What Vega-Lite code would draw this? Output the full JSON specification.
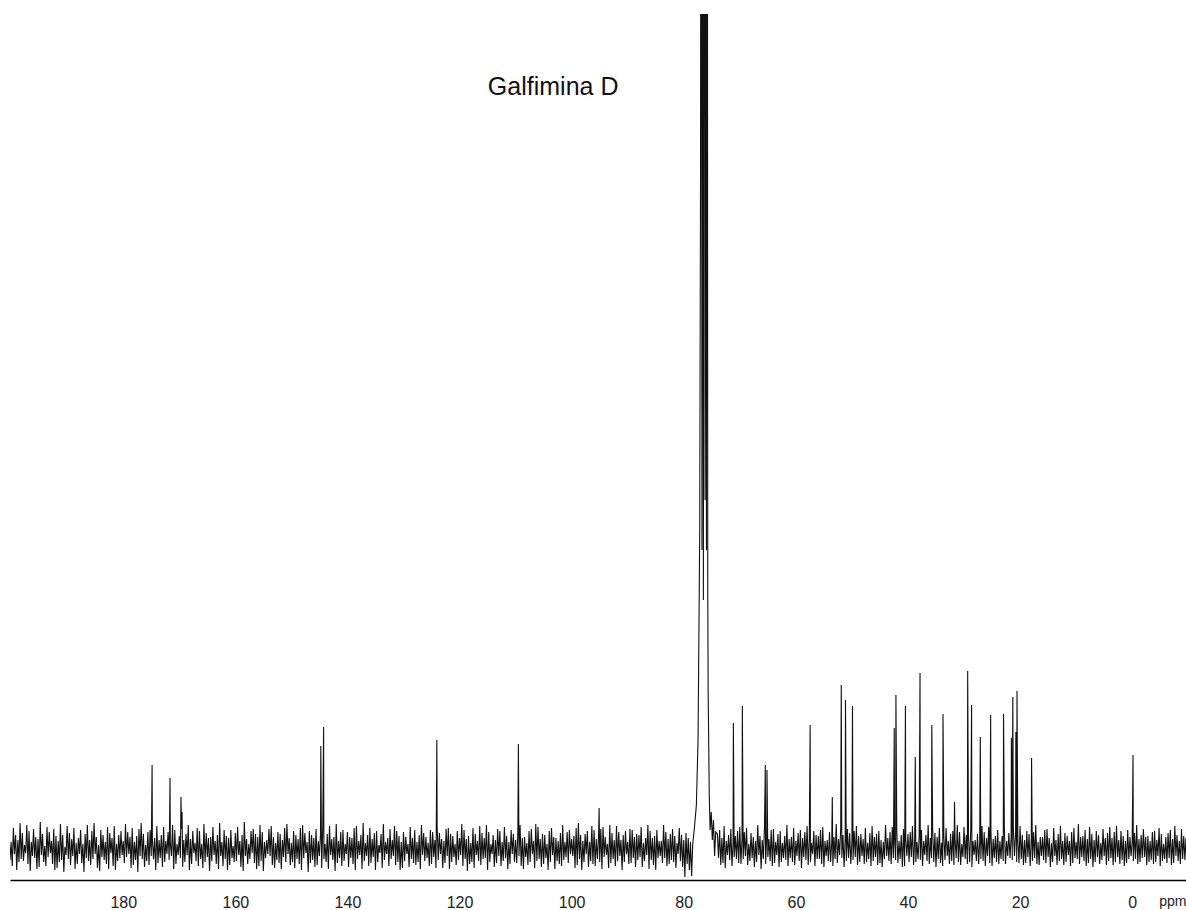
{
"$schema": "https://vega.github.io/schema/vega-lite/v6.json",
"width": 1176, "height": 866,
"padding": {"left": 10, "top": 14, "right": 0, "bottom": 30},
"autosize": {"type": "none"},
"background": "white",
"config": {"view": {"stroke": null}, "font": "Liberation Sans"},
"layer": [
{"data": {"values": [
{"p":202,"v":14},{"p":201.8,"v":-7},{"p":201.6,"v":18},{"p":201.4,"v":-11},{"p":201.2,"v":6},{"p":201,"v":-13},{"p":200.8,"v":24},{"p":200.6,"v":-4},{"p":200.4,"v":19},{"p":200.2,"v":-10},
{"p":200,"v":8},{"p":199.8,"v":-16},{"p":199.6,"v":22},{"p":199.4,"v":-4},{"p":199.2,"v":15},{"p":199,"v":-20},{"p":198.8,"v":10},{"p":198.6,"v":-12},{"p":198.4,"v":27},{"p":198.2,"v":-9},
{"p":198,"v":17},{"p":197.8,"v":-11},{"p":197.6,"v":5},{"p":197.4,"v":-3},{"p":197.2,"v":25},{"p":197,"v":-14},{"p":196.8,"v":19},{"p":196.6,"v":-21},{"p":196.4,"v":8},{"p":196.2,"v":-6},
{"p":196,"v":21},{"p":195.8,"v":-8},{"p":195.6,"v":13},{"p":195.4,"v":-19},{"p":195.2,"v":11},{"p":195,"v":-17},{"p":194.8,"v":28},{"p":194.6,"v":-5},{"p":194.4,"v":16},{"p":194.2,"v":-12},
{"p":194,"v":4},{"p":193.8,"v":-16},{"p":193.6,"v":23},{"p":193.4,"v":-7},{"p":193.2,"v":18},{"p":193,"v":-3},{"p":192.8,"v":9},{"p":192.6,"v":-14},{"p":192.4,"v":21},{"p":192.2,"v":-20},
{"p":192,"v":14},{"p":191.8,"v":-18},{"p":191.6,"v":9},{"p":191.4,"v":-12},{"p":191.2,"v":26},{"p":191,"v":-10},{"p":190.8,"v":15},{"p":190.6,"v":-22},{"p":190.4,"v":3},{"p":190.2,"v":-5},
{"p":190,"v":24},{"p":189.8,"v":-9},{"p":189.6,"v":17},{"p":189.4,"v":-15},{"p":189.2,"v":11},{"p":189,"v":-6},{"p":188.8,"v":22},{"p":188.6,"v":-19},{"p":188.4,"v":7},{"p":188.2,"v":-14},
{"p":188,"v":12},{"p":187.8,"v":-4},{"p":187.6,"v":20},{"p":187.4,"v":-13},{"p":187.2,"v":6},{"p":187,"v":-22},{"p":186.8,"v":16},{"p":186.6,"v":-8},{"p":186.4,"v":25},{"p":186.2,"v":-11},
{"p":186,"v":10},{"p":185.8,"v":-15},{"p":185.6,"v":19},{"p":185.4,"v":-9},{"p":185.2,"v":27},{"p":185,"v":-4},{"p":184.8,"v":13},{"p":184.6,"v":-18},{"p":184.4,"v":5},{"p":184.2,"v":-21},
{"p":184,"v":20},{"p":183.8,"v":-7},{"p":183.6,"v":15},{"p":183.4,"v":-10},{"p":183.2,"v":8},{"p":183,"v":-14},{"p":182.8,"v":23},{"p":182.6,"v":-19},{"p":182.4,"v":17},{"p":182.2,"v":-3},
{"p":182,"v":12},{"p":181.8,"v":-16},{"p":181.6,"v":24},{"p":181.4,"v":-20},{"p":181.2,"v":6},{"p":181,"v":-11},{"p":180.8,"v":15},{"p":180.6,"v":-8},{"p":180.4,"v":19},{"p":180.2,"v":-5},
{"p":180,"v":9},{"p":179.8,"v":-13},{"p":179.6,"v":26},{"p":179.4,"v":-7},{"p":179.2,"v":18},{"p":179,"v":-4},{"p":178.8,"v":13},{"p":178.6,"v":-18},{"p":178.4,"v":22},{"p":178.2,"v":-15},
{"p":178,"v":8},{"p":177.8,"v":-10},{"p":177.6,"v":14},{"p":177.4,"v":-22},{"p":177.2,"v":21},{"p":177,"v":-6},{"p":176.8,"v":27},{"p":176.6,"v":-9},{"p":176.4,"v":16},{"p":176.2,"v":-17},
{"p":176,"v":5},{"p":175.8,"v":-11},{"p":175.6,"v":18},{"p":175.4,"v":-15},{"p":175.2,"v":20},{"p":175,"v":-6},{"p":174.85,"v":85},{"p":174.8,"v":11},{"p":174.6,"v":-9},{"p":174.4,"v":12},{"p":174.2,"v":-20},
{"p":174,"v":24},{"p":173.8,"v":-13},{"p":173.6,"v":10},{"p":173.4,"v":-8},{"p":173.2,"v":15},{"p":173,"v":-17},{"p":172.8,"v":23},{"p":172.6,"v":-12},{"p":172.4,"v":9},{"p":172.2,"v":-4},
{"p":172,"v":18},{"p":171.8,"v":-10},{"p":171.65,"v":72},{"p":171.6,"v":7},{"p":171.4,"v":-6},{"p":171.2,"v":25},{"p":171,"v":-19},{"p":170.8,"v":20},{"p":170.6,"v":-14},{"p":170.4,"v":6},{"p":170.2,"v":-5},
{"p":170,"v":14},{"p":169.8,"v":-8},{"p":169.7,"v":53},{"p":169.6,"v":21},{"p":169.5,"v":38},{"p":169.4,"v":-17},{"p":169.2,"v":10},{"p":169,"v":-12},{"p":168.8,"v":16},{"p":168.6,"v":-5},{"p":168.4,"v":25},{"p":168.2,"v":-20},
{"p":168,"v":11},{"p":167.8,"v":-14},{"p":167.6,"v":19},{"p":167.4,"v":-3},{"p":167.2,"v":7},{"p":167,"v":-11},{"p":166.8,"v":22},{"p":166.6,"v":-16},{"p":166.4,"v":19},{"p":166.2,"v":-9},
{"p":166,"v":6},{"p":165.8,"v":-18},{"p":165.6,"v":26},{"p":165.4,"v":-12},{"p":165.2,"v":17},{"p":165,"v":-7},{"p":164.8,"v":12},{"p":164.6,"v":-21},{"p":164.4,"v":13},{"p":164.2,"v":-11},
{"p":164,"v":23},{"p":163.8,"v":-5},{"p":163.6,"v":9},{"p":163.4,"v":-14},{"p":163.2,"v":15},{"p":163,"v":-19},{"p":162.8,"v":27},{"p":162.6,"v":-6},{"p":162.4,"v":8},{"p":162.2,"v":-16},
{"p":162,"v":20},{"p":161.8,"v":-9},{"p":161.6,"v":14},{"p":161.4,"v":-20},{"p":161.2,"v":12},{"p":161,"v":-15},{"p":160.8,"v":20},{"p":160.6,"v":-8},{"p":160.4,"v":4},{"p":160.2,"v":-12},
{"p":160,"v":17},{"p":159.8,"v":-11},{"p":159.6,"v":23},{"p":159.4,"v":-5},{"p":159.2,"v":9},{"p":159,"v":-17},{"p":158.8,"v":15},{"p":158.6,"v":-21},{"p":158.4,"v":28},{"p":158.2,"v":-6},
{"p":158,"v":11},{"p":157.8,"v":-14},{"p":157.6,"v":6},{"p":157.4,"v":-9},{"p":157.2,"v":19},{"p":157,"v":-3},{"p":156.8,"v":21},{"p":156.6,"v":-13},{"p":156.4,"v":16},{"p":156.2,"v":-19},
{"p":156,"v":13},{"p":155.8,"v":-16},{"p":155.6,"v":25},{"p":155.4,"v":-11},{"p":155.2,"v":18},{"p":155,"v":-21},{"p":154.8,"v":8},{"p":154.6,"v":-8},{"p":154.4,"v":10},{"p":154.2,"v":-4},
{"p":154,"v":21},{"p":153.8,"v":-6},{"p":153.6,"v":24},{"p":153.4,"v":-15},{"p":153.2,"v":13},{"p":153,"v":-18},{"p":152.8,"v":7},{"p":152.6,"v":-10},{"p":152.4,"v":18},{"p":152.2,"v":-13},
{"p":152,"v":16},{"p":151.8,"v":-19},{"p":151.6,"v":10},{"p":151.4,"v":-7},{"p":151.2,"v":22},{"p":151,"v":-12},{"p":150.8,"v":26},{"p":150.6,"v":-4},{"p":150.4,"v":12},{"p":150.2,"v":-15},
{"p":150,"v":7},{"p":149.8,"v":-12},{"p":149.6,"v":19},{"p":149.4,"v":-18},{"p":149.2,"v":15},{"p":149,"v":-9},{"p":148.8,"v":11},{"p":148.6,"v":-14},{"p":148.4,"v":22},{"p":148.2,"v":-20},
{"p":148,"v":25},{"p":147.8,"v":-8},{"p":147.6,"v":17},{"p":147.4,"v":-3},{"p":147.2,"v":8},{"p":147,"v":-22},{"p":146.8,"v":19},{"p":146.6,"v":-13},{"p":146.4,"v":15},{"p":146.2,"v":-10},
{"p":146,"v":12},{"p":145.8,"v":-17},{"p":145.6,"v":21},{"p":145.4,"v":-15},{"p":145.2,"v":9},{"p":145,"v":-6},{"p":144.8,"v":17},{"p":144.75,"v":104},{"p":144.6,"v":-18},{"p":144.4,"v":23},{"p":144.25,"v":123},{"p":144.2,"v":-9},
{"p":144,"v":6},{"p":143.8,"v":-12},{"p":143.6,"v":16},{"p":143.4,"v":-19},{"p":143.2,"v":24},{"p":143,"v":-5},{"p":142.8,"v":11},{"p":142.6,"v":-10},{"p":142.4,"v":13},{"p":142.2,"v":-21},
{"p":142,"v":26},{"p":141.8,"v":-13},{"p":141.6,"v":9},{"p":141.4,"v":-8},{"p":141.2,"v":18},{"p":141,"v":-16},{"p":140.8,"v":20},{"p":140.6,"v":-11},{"p":140.4,"v":6},{"p":140.2,"v":-4},
{"p":140,"v":18},{"p":139.8,"v":-17},{"p":139.6,"v":13},{"p":139.4,"v":-8},{"p":139.2,"v":12},{"p":139,"v":-14},{"p":138.8,"v":22},{"p":138.6,"v":-20},{"p":138.4,"v":24},{"p":138.2,"v":-9},
{"p":138,"v":9},{"p":137.8,"v":-5},{"p":137.6,"v":15},{"p":137.4,"v":-19},{"p":137.2,"v":27},{"p":137,"v":-11},{"p":136.8,"v":7},{"p":136.6,"v":-6},{"p":136.4,"v":15},{"p":136.2,"v":-16},
{"p":136,"v":22},{"p":135.8,"v":-13},{"p":135.6,"v":11},{"p":135.4,"v":-7},{"p":135.2,"v":17},{"p":135,"v":-20},{"p":134.8,"v":19},{"p":134.6,"v":-12},{"p":134.4,"v":5},{"p":134.2,"v":-3},
{"p":134,"v":16},{"p":133.8,"v":-18},{"p":133.6,"v":26},{"p":133.4,"v":-10},{"p":133.2,"v":8},{"p":133,"v":-4},{"p":132.8,"v":12},{"p":132.6,"v":-16},{"p":132.4,"v":21},{"p":132.2,"v":-9},
{"p":132,"v":10},{"p":131.8,"v":-6},{"p":131.6,"v":24},{"p":131.4,"v":-15},{"p":131.2,"v":19},{"p":131,"v":-12},{"p":130.8,"v":14},{"p":130.6,"v":-20},{"p":130.4,"v":8},{"p":130.2,"v":-18},
{"p":130,"v":18},{"p":129.8,"v":-11},{"p":129.6,"v":13},{"p":129.4,"v":-4},{"p":129.2,"v":6},{"p":129,"v":-17},{"p":128.8,"v":23},{"p":128.6,"v":-9},{"p":128.4,"v":12},{"p":128.2,"v":-13},
{"p":128,"v":20},{"p":127.8,"v":-15},{"p":127.6,"v":8},{"p":127.4,"v":-12},{"p":127.2,"v":15},{"p":127,"v":-19},{"p":126.8,"v":25},{"p":126.6,"v":-5},{"p":126.4,"v":17},{"p":126.2,"v":-11},
{"p":126,"v":13},{"p":125.8,"v":-8},{"p":125.6,"v":7},{"p":125.4,"v":-16},{"p":125.2,"v":20},{"p":125,"v":-14},{"p":124.8,"v":18},{"p":124.6,"v":-7},{"p":124.4,"v":10},{"p":124.2,"v":-18},{"p":124.05,"v":110},
{"p":124,"v":24},{"p":123.8,"v":-10},{"p":123.6,"v":17},{"p":123.4,"v":-4},{"p":123.2,"v":11},{"p":123,"v":-18},{"p":122.8,"v":9},{"p":122.6,"v":-13},{"p":122.4,"v":21},{"p":122.2,"v":-6},
{"p":122,"v":22},{"p":121.8,"v":-19},{"p":121.6,"v":16},{"p":121.4,"v":-12},{"p":121.2,"v":14},{"p":121,"v":-7},{"p":120.8,"v":6},{"p":120.6,"v":-15},{"p":120.4,"v":19},{"p":120.2,"v":-10},
{"p":120,"v":12},{"p":119.8,"v":-5},{"p":119.6,"v":26},{"p":119.4,"v":-16},{"p":119.2,"v":20},{"p":119,"v":-9},{"p":118.8,"v":11},{"p":118.6,"v":-21},{"p":118.4,"v":14},{"p":118.2,"v":-14},
{"p":118,"v":7},{"p":117.8,"v":-12},{"p":117.6,"v":22},{"p":117.4,"v":-18},{"p":117.2,"v":16},{"p":117,"v":-5},{"p":116.8,"v":9},{"p":116.6,"v":-11},{"p":116.4,"v":24},{"p":116.2,"v":-15},
{"p":116,"v":17},{"p":115.8,"v":-9},{"p":115.6,"v":12},{"p":115.4,"v":-8},{"p":115.2,"v":25},{"p":115,"v":-20},{"p":114.8,"v":18},{"p":114.6,"v":-12},{"p":114.4,"v":6},{"p":114.2,"v":-4},
{"p":114,"v":15},{"p":113.8,"v":-17},{"p":113.6,"v":10},{"p":113.4,"v":-13},{"p":113.2,"v":21},{"p":113,"v":-6},{"p":112.8,"v":19},{"p":112.6,"v":-16},{"p":112.4,"v":8},{"p":112.2,"v":-11},
{"p":112,"v":23},{"p":111.8,"v":-8},{"p":111.6,"v":14},{"p":111.4,"v":-19},{"p":111.2,"v":8},{"p":111,"v":-14},{"p":110.8,"v":20},{"p":110.6,"v":-4},{"p":110.4,"v":16},{"p":110.2,"v":-12},
{"p":110,"v":10},{"p":109.8,"v":-13},{"p":109.6,"v":18},{"p":109.5,"v":106},{"p":109.4,"v":-6},{"p":109.2,"v":25},{"p":109,"v":-16},{"p":108.8,"v":12},{"p":108.6,"v":-19},{"p":108.4,"v":13},{"p":108.2,"v":-7},
{"p":108,"v":7},{"p":107.8,"v":-15},{"p":107.6,"v":19},{"p":107.4,"v":-12},{"p":107.2,"v":21},{"p":107,"v":-4},{"p":106.8,"v":9},{"p":106.6,"v":-18},{"p":106.4,"v":26},{"p":106.2,"v":-11},
{"p":106,"v":23},{"p":105.8,"v":-9},{"p":105.6,"v":11},{"p":105.4,"v":-17},{"p":105.2,"v":16},{"p":105,"v":-14},{"p":104.8,"v":15},{"p":104.6,"v":-8},{"p":104.4,"v":6},{"p":104.2,"v":-20},
{"p":104,"v":19},{"p":103.8,"v":-12},{"p":103.6,"v":22},{"p":103.4,"v":-5},{"p":103.2,"v":13},{"p":103,"v":-19},{"p":102.8,"v":12},{"p":102.6,"v":-11},{"p":102.4,"v":9},{"p":102.2,"v":-14},
{"p":102,"v":17},{"p":101.8,"v":-16},{"p":101.6,"v":25},{"p":101.4,"v":-10},{"p":101.2,"v":8},{"p":101,"v":-7},{"p":100.8,"v":18},{"p":100.6,"v":-13},{"p":100.4,"v":20},{"p":100.2,"v":-4},
{"p":100,"v":11},{"p":99.8,"v":-6},{"p":99.6,"v":14},{"p":99.4,"v":-18},{"p":99.2,"v":22},{"p":99,"v":-15},{"p":98.8,"v":27},{"p":98.6,"v":-9},{"p":98.4,"v":15},{"p":98.2,"v":-20},
{"p":98,"v":9},{"p":97.8,"v":-12},{"p":97.6,"v":16},{"p":97.4,"v":-4},{"p":97.2,"v":19},{"p":97,"v":-17},{"p":96.8,"v":8},{"p":96.6,"v":-11},{"p":96.4,"v":24},{"p":96.2,"v":-14},
{"p":96,"v":20},{"p":95.8,"v":-16},{"p":95.6,"v":11},{"p":95.4,"v":-9},{"p":95.2,"v":14},{"p":95.1,"v":42},{"p":95,"v":-12},{"p":94.8,"v":21},{"p":94.6,"v":-19},{"p":94.4,"v":23},{"p":94.2,"v":-7},
{"p":94,"v":13},{"p":93.8,"v":-5},{"p":93.6,"v":6},{"p":93.4,"v":-18},{"p":93.2,"v":25},{"p":93,"v":-13},{"p":92.8,"v":17},{"p":92.6,"v":-9},{"p":92.4,"v":10},{"p":92.2,"v":-16},
{"p":92,"v":24},{"p":91.8,"v":-11},{"p":91.6,"v":18},{"p":91.4,"v":-6},{"p":91.2,"v":10},{"p":91,"v":-20},{"p":90.8,"v":15},{"p":90.6,"v":-12},{"p":90.4,"v":19},{"p":90.2,"v":-4},
{"p":90,"v":8},{"p":89.8,"v":-14},{"p":89.6,"v":21},{"p":89.4,"v":-13},{"p":89.2,"v":20},{"p":89,"v":-8},{"p":88.8,"v":13},{"p":88.6,"v":-17},{"p":88.4,"v":16},{"p":88.2,"v":-10},
{"p":88,"v":15},{"p":87.8,"v":-7},{"p":87.6,"v":23},{"p":87.4,"v":-17},{"p":87.2,"v":7},{"p":87,"v":-11},{"p":86.8,"v":12},{"p":86.6,"v":-5},{"p":86.4,"v":25},{"p":86.2,"v":-19},
{"p":86,"v":19},{"p":85.8,"v":-10},{"p":85.6,"v":12},{"p":85.4,"v":-15},{"p":85.2,"v":14},{"p":85,"v":-20},{"p":84.8,"v":20},{"p":84.6,"v":-8},{"p":84.4,"v":9},{"p":84.2,"v":-6},
{"p":84,"v":9},{"p":83.8,"v":-13},{"p":83.6,"v":25},{"p":83.4,"v":-8},{"p":83.2,"v":18},{"p":83,"v":-16},{"p":82.8,"v":11},{"p":82.6,"v":-14},{"p":82.4,"v":16},{"p":82.2,"v":-10},
{"p":82,"v":21},{"p":81.8,"v":-12},{"p":81.6,"v":14},{"p":81.4,"v":-18},{"p":81.2,"v":7},{"p":81,"v":-4},{"p":80.8,"v":22},{"p":80.6,"v":-11},{"p":80.4,"v":15},{"p":80.2,"v":-17},
{"p":80,"v":10},{"p":79.8,"v":-27},{"p":79.6,"v":17},{"p":79.4,"v":-14},{"p":79.2,"v":12},{"p":79,"v":-20},{"p":78.8,"v":8},{"p":78.6,"v":-26},{"p":78.4,"v":6},
{"p":78.1,"v":22},{"p":77.75,"v":45},{"p":77.45,"v":110},{"p":77.15,"v":320},{"p":77.0,"v":700},{"p":76.9,"v":1600},{"p":76.75,"v":300},{"p":76.62,"v":1100},{"p":76.5,"v":250},{"p":76.36,"v":1600},{"p":76.2,"v":350},{"p":76.05,"v":900},{"p":75.95,"v":300},{"p":75.82,"v":1600},{"p":75.72,"v":260},
{"p":75.65,"v":160},{"p":75.45,"v":55},{"p":75.3,"v":20},{"p":75.1,"v":38},{"p":74.9,"v":10},{"p":74.7,"v":30},{"p":74.5,"v":-6},{"p":74.3,"v":18},
{"p":74,"v":16},{"p":73.8,"v":-8},{"p":73.6,"v":20},{"p":73.4,"v":-15},{"p":73.2,"v":12},{"p":73,"v":-13},{"p":72.8,"v":24},{"p":72.6,"v":-18},{"p":72.4,"v":9},{"p":72.2,"v":-5},
{"p":72,"v":15},{"p":71.8,"v":-10},{"p":71.6,"v":21},{"p":71.4,"v":-16},{"p":71.2,"v":8},{"p":71.15,"v":127},{"p":71,"v":-7},{"p":70.8,"v":14},{"p":70.6,"v":-9},{"p":70.4,"v":19},{"p":70.2,"v":-13},
{"p":70,"v":23},{"p":69.8,"v":-14},{"p":69.6,"v":12},{"p":69.55,"v":144},{"p":69.4,"v":-9},{"p":69.2,"v":18},{"p":69,"v":-6},{"p":68.8,"v":22},{"p":68.6,"v":-15},{"p":68.4,"v":6},{"p":68.2,"v":-11},
{"p":68,"v":17},{"p":67.8,"v":-8},{"p":67.6,"v":13},{"p":67.4,"v":-17},{"p":67.2,"v":9},{"p":67,"v":-12},{"p":66.8,"v":25},{"p":66.6,"v":-5},{"p":66.4,"v":14},{"p":66.2,"v":-19},
{"p":66,"v":10},{"p":65.8,"v":-9},{"p":65.6,"v":23},{"p":65.45,"v":85},{"p":65.4,"v":-14},{"p":65.2,"v":15},{"p":65.15,"v":80},{"p":65,"v":-7},{"p":64.8,"v":11},{"p":64.6,"v":-11},{"p":64.4,"v":20},{"p":64.2,"v":-16},
{"p":64,"v":21},{"p":63.8,"v":-13},{"p":63.6,"v":8},{"p":63.4,"v":-5},{"p":63.2,"v":16},{"p":63,"v":-17},{"p":62.8,"v":19},{"p":62.6,"v":-12},{"p":62.4,"v":7},{"p":62.2,"v":-8},
{"p":62,"v":14},{"p":61.8,"v":-10},{"p":61.6,"v":25},{"p":61.4,"v":-16},{"p":61.2,"v":11},{"p":61,"v":-8},{"p":60.8,"v":13},{"p":60.6,"v":-12},{"p":60.4,"v":22},{"p":60.2,"v":-15},
{"p":60,"v":9},{"p":59.8,"v":-6},{"p":59.6,"v":17},{"p":59.4,"v":-11},{"p":59.2,"v":20},{"p":59,"v":-18},{"p":58.8,"v":12},{"p":58.6,"v":-7},{"p":58.4,"v":18},{"p":58.2,"v":-10},
{"p":58,"v":24},{"p":57.8,"v":-15},{"p":57.6,"v":11},{"p":57.45,"v":125},{"p":57.4,"v":-12},{"p":57.2,"v":7},{"p":57,"v":-4},{"p":56.8,"v":19},{"p":56.6,"v":-16},{"p":56.4,"v":15},{"p":56.2,"v":-9},
{"p":56,"v":14},{"p":55.8,"v":-9},{"p":55.6,"v":20},{"p":55.4,"v":-14},{"p":55.2,"v":23},{"p":55,"v":-17},{"p":54.8,"v":9},{"p":54.6,"v":-6},{"p":54.4,"v":10},{"p":54.2,"v":-11},
{"p":54,"v":18},{"p":53.8,"v":-12},{"p":53.6,"v":8},{"p":53.5,"v":53},{"p":53.4,"v":-16},{"p":53.2,"v":13},{"p":53,"v":-9},{"p":52.8,"v":26},{"p":52.6,"v":-13},{"p":52.4,"v":11},{"p":52.2,"v":-5},
{"p":52,"v":22},{"p":51.9,"v":165},{"p":51.8,"v":-8},{"p":51.6,"v":15},{"p":51.4,"v":-17},{"p":51.2,"v":12},{"p":51.15,"v":150},{"p":51,"v":-11},{"p":50.8,"v":21},{"p":50.6,"v":-8},{"p":50.4,"v":17},{"p":50.2,"v":-14},
{"p":50,"v":9},{"p":49.9,"v":144},{"p":49.8,"v":-10},{"p":49.6,"v":19},{"p":49.4,"v":-7},{"p":49.2,"v":24},{"p":49,"v":-15},{"p":48.8,"v":14},{"p":48.6,"v":-12},{"p":48.4,"v":16},{"p":48.2,"v":-6},
{"p":48,"v":11},{"p":47.8,"v":-14},{"p":47.6,"v":22},{"p":47.4,"v":-12},{"p":47.2,"v":7},{"p":47,"v":-9},{"p":46.8,"v":17},{"p":46.6,"v":-16},{"p":46.4,"v":24},{"p":46.2,"v":-11},
{"p":46,"v":13},{"p":45.8,"v":-7},{"p":45.6,"v":16},{"p":45.4,"v":-15},{"p":45.2,"v":19},{"p":45,"v":-13},{"p":44.8,"v":10},{"p":44.6,"v":-17},{"p":44.4,"v":8},{"p":44.2,"v":-9},
{"p":44,"v":25},{"p":43.8,"v":-6},{"p":43.6,"v":12},{"p":43.4,"v":-11},{"p":43.2,"v":18},{"p":43,"v":-14},{"p":42.8,"v":23},{"p":42.6,"v":-8},{"p":42.45,"v":122},{"p":42.4,"v":13},{"p":42.2,"v":-10},{"p":42.15,"v":155},
{"p":42,"v":20},{"p":41.8,"v":-13},{"p":41.6,"v":9},{"p":41.4,"v":-9},{"p":41.2,"v":15},{"p":41,"v":-17},{"p":40.8,"v":21},{"p":40.6,"v":-16},{"p":40.45,"v":144},{"p":40.4,"v":11},{"p":40.2,"v":-6},
{"p":40,"v":16},{"p":39.8,"v":-12},{"p":39.6,"v":18},{"p":39.4,"v":-7},{"p":39.2,"v":24},{"p":39,"v":-15},{"p":38.8,"v":10},{"p":38.7,"v":93},{"p":38.6,"v":-12},{"p":38.4,"v":8},{"p":38.2,"v":-9},
{"p":38,"v":14},{"p":37.85,"v":177},{"p":37.8,"v":-10},{"p":37.6,"v":20},{"p":37.4,"v":-16},{"p":37.2,"v":9},{"p":37,"v":-5},{"p":36.8,"v":15},{"p":36.6,"v":-11},{"p":36.4,"v":25},{"p":36.2,"v":-14},
{"p":36,"v":12},{"p":35.8,"v":-8},{"p":35.75,"v":125},{"p":35.6,"v":21},{"p":35.4,"v":-12},{"p":35.2,"v":17},{"p":35,"v":-17},{"p":34.8,"v":13},{"p":34.6,"v":-9},{"p":34.4,"v":22},{"p":34.2,"v":-13},
{"p":34,"v":7},{"p":33.8,"v":-16},{"p":33.75,"v":136},{"p":33.6,"v":14},{"p":33.4,"v":-10},{"p":33.2,"v":22},{"p":33,"v":-6},{"p":32.8,"v":9},{"p":32.6,"v":-14},{"p":32.4,"v":16},{"p":32.2,"v":-11},
{"p":32,"v":19},{"p":31.8,"v":-15},{"p":31.7,"v":48},{"p":31.6,"v":11},{"p":31.4,"v":-8},{"p":31.2,"v":25},{"p":31,"v":-12},{"p":30.8,"v":18},{"p":30.6,"v":-15},{"p":30.4,"v":6},{"p":30.2,"v":-7},
{"p":30,"v":23},{"p":29.8,"v":-9},{"p":29.6,"v":15},{"p":29.4,"v":-14},{"p":29.35,"v":179},{"p":29.2,"v":12},{"p":29,"v":-12},{"p":28.8,"v":21},{"p":28.65,"v":145},{"p":28.6,"v":-17},{"p":28.4,"v":9},{"p":28.2,"v":-5},
{"p":28,"v":10},{"p":27.8,"v":-11},{"p":27.6,"v":16},{"p":27.4,"v":-14},{"p":27.2,"v":8},{"p":27.1,"v":113},{"p":27,"v":-9},{"p":26.8,"v":24},{"p":26.6,"v":-11},{"p":26.4,"v":18},{"p":26.2,"v":-16},
{"p":26,"v":12},{"p":25.8,"v":-6},{"p":25.6,"v":23},{"p":25.4,"v":-13},{"p":25.25,"v":135},{"p":25.2,"v":19},{"p":25,"v":-16},{"p":24.8,"v":11},{"p":24.6,"v":-8},{"p":24.4,"v":14},{"p":24.2,"v":-12},
{"p":24,"v":20},{"p":23.8,"v":-14},{"p":23.6,"v":9},{"p":23.4,"v":-9},{"p":23.2,"v":14},{"p":23,"v":-11},{"p":22.95,"v":136},{"p":22.8,"v":21},{"p":22.6,"v":-14},{"p":22.4,"v":9},{"p":22.2,"v":-6},
{"p":22,"v":17},{"p":21.8,"v":-8},{"p":21.6,"v":12},{"p":21.55,"v":112},{"p":21.4,"v":-10},{"p":21.3,"v":153},{"p":21.2,"v":22},{"p":21,"v":-6},{"p":20.8,"v":17},{"p":20.75,"v":118},{"p":20.6,"v":-12},{"p":20.55,"v":159},{"p":20.4,"v":10},{"p":20.2,"v":-13},
{"p":20,"v":24},{"p":19.8,"v":-9},{"p":19.6,"v":15},{"p":19.4,"v":-15},{"p":19.2,"v":10},{"p":19,"v":-13},{"p":18.8,"v":19},{"p":18.6,"v":-7},{"p":18.4,"v":16},{"p":18.2,"v":-16},
{"p":18,"v":11},{"p":17.95,"v":92},{"p":17.8,"v":-11},{"p":17.6,"v":18},{"p":17.4,"v":-8},{"p":17.2,"v":25},{"p":17,"v":-14},{"p":16.8,"v":8},{"p":16.6,"v":-15},{"p":16.4,"v":13},{"p":16.2,"v":-6},
{"p":16,"v":13},{"p":15.8,"v":-10},{"p":15.6,"v":20},{"p":15.4,"v":-13},{"p":15.2,"v":21},{"p":15,"v":-7},{"p":14.8,"v":12},{"p":14.6,"v":-17},{"p":14.4,"v":7},{"p":14.2,"v":-12},
{"p":14,"v":22},{"p":13.8,"v":-6},{"p":13.6,"v":10},{"p":13.4,"v":-15},{"p":13.2,"v":16},{"p":13,"v":-11},{"p":12.8,"v":24},{"p":12.6,"v":-9},{"p":12.4,"v":9},{"p":12.2,"v":-15},
{"p":12,"v":17},{"p":11.8,"v":-12},{"p":11.6,"v":14},{"p":11.4,"v":-5},{"p":11.2,"v":9},{"p":11,"v":-16},{"p":10.8,"v":18},{"p":10.6,"v":-13},{"p":10.4,"v":22},{"p":10.2,"v":-8},
{"p":10,"v":8},{"p":9.8,"v":-9},{"p":9.6,"v":26},{"p":9.4,"v":-14},{"p":9.2,"v":13},{"p":9,"v":-7},{"p":8.8,"v":14},{"p":8.6,"v":-11},{"p":8.4,"v":20},{"p":8.2,"v":-16},
{"p":8,"v":11},{"p":7.8,"v":-13},{"p":7.6,"v":23},{"p":7.4,"v":-9},{"p":7.2,"v":16},{"p":7,"v":-17},{"p":6.8,"v":10},{"p":6.6,"v":-12},{"p":6.4,"v":19},{"p":6.2,"v":-7},
{"p":6,"v":15},{"p":5.8,"v":-14},{"p":5.6,"v":7},{"p":5.4,"v":-10},{"p":5.2,"v":21},{"p":5,"v":-6},{"p":4.8,"v":12},{"p":4.6,"v":-15},{"p":4.4,"v":17},{"p":4.2,"v":-11},
{"p":4,"v":23},{"p":3.8,"v":-8},{"p":3.6,"v":12},{"p":3.4,"v":-15},{"p":3.2,"v":18},{"p":3,"v":-12},{"p":2.8,"v":24},{"p":2.6,"v":-7},{"p":2.4,"v":10},{"p":2.2,"v":-14},
{"p":2,"v":19},{"p":1.8,"v":-10},{"p":1.6,"v":14},{"p":1.4,"v":-16},{"p":1.2,"v":9},{"p":1,"v":-13},{"p":0.8,"v":20},{"p":0.6,"v":-9},{"p":0.4,"v":13},{"p":0.2,"v":-6},
{"p":0,"v":8},{"p":-0.15,"v":95},{"p":-0.2,"v":-11},{"p":-0.4,"v":17},{"p":-0.6,"v":-9},{"p":-0.8,"v":25},{"p":-1,"v":-14},{"p":-1.2,"v":11},{"p":-1.4,"v":-12},{"p":-1.6,"v":15},{"p":-1.8,"v":-8},
{"p":-2,"v":21},{"p":-2.2,"v":-7},{"p":-2.4,"v":13},{"p":-2.6,"v":-15},{"p":-2.8,"v":14},{"p":-3,"v":-12},{"p":-3.2,"v":9},{"p":-3.4,"v":-10},{"p":-3.6,"v":18},{"p":-3.8,"v":-14},
{"p":-4,"v":19},{"p":-4.2,"v":-12},{"p":-4.4,"v":10},{"p":-4.6,"v":-6},{"p":-4.8,"v":22},{"p":-5,"v":-16},{"p":-5.2,"v":16},{"p":-5.4,"v":-11},{"p":-5.6,"v":6},{"p":-5.8,"v":-9},
{"p":-6,"v":13},{"p":-6.2,"v":-13},{"p":-6.4,"v":17},{"p":-6.6,"v":-8},{"p":-6.8,"v":20},{"p":-7,"v":-15},{"p":-7.2,"v":11},{"p":-7.4,"v":-13},{"p":-7.6,"v":24},{"p":-7.8,"v":-6},
{"p":-8,"v":15},{"p":-8.2,"v":-11},{"p":-8.4,"v":9},{"p":-8.6,"v":-14},{"p":-8.8,"v":21},{"p":-9,"v":-9},{"p":-9.2,"v":14},{"p":-9.4,"v":-10},{"p":-9.6,"v":12}
]},
"mark": {"type": "line", "color": "#111111", "strokeWidth": 1.1, "clip": true},
"encoding": {
"x": {"field": "p", "type": "quantitative",
"scale": {"domain": [200.2, -9.6], "nice": false, "zero": false},
"axis": {"values": [180,160,140,120,100,80,60,40,20,0,-7.15],
"labelExpr": "datum.value < -1 ? 'ppm' : datum.label",
"ticks": false, "grid": false, "title": null,
"domainColor": "#000000", "domainWidth": 1.5,
"labelFontSize": {"condition": {"test": "datum.value < -1", "value": 14}, "value": 16},
"labelColor": "#222222", "labelPadding": 14,
"labelFont": "Liberation Sans", "labelFlush": false, "labelOverlap": false}},
"y": {"field": "v", "type": "quantitative",
"scale": {"domain": [-30, 836], "nice": false, "zero": false}, "axis": null}
}},
{"data": {"values": [{"p": 103.3, "v": 755, "t": "Galfimina D"}]},
"mark": {"type": "text", "fontSize": 25, "align": "center", "baseline": "alphabetic", "color": "#111111", "font": "Liberation Sans"},
"encoding": {
"x": {"field": "p", "type": "quantitative"},
"y": {"field": "v", "type": "quantitative"},
"text": {"field": "t"}
}}
]
}
